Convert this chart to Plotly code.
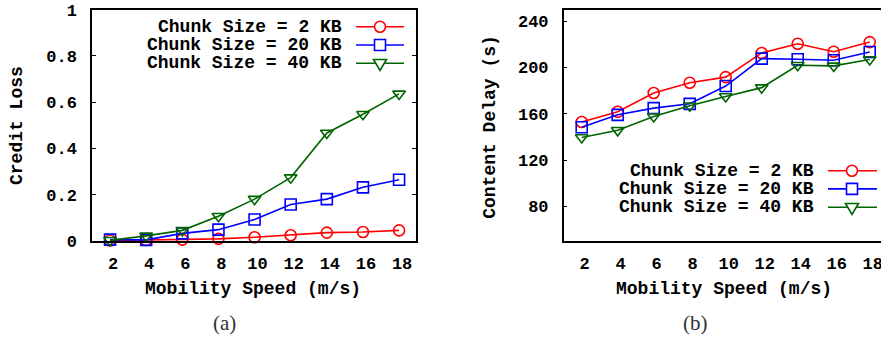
import plotly.graph_objects as go

# ---------------- data ----------------
speeds = [2, 4, 6, 8, 10, 12, 14, 16, 18]
series_names = ["Chunk Size = 2 KB", "Chunk Size = 20 KB", "Chunk Size = 40 KB"]

credit_2kb = [0.002, 0.004, 0.006, 0.009, 0.016, 0.025, 0.036, 0.039, 0.046]
credit_20kb = [0.006, 0.005, 0.033, 0.049, 0.093, 0.158, 0.181, 0.232, 0.265]
credit_40kb = [0.003, 0.022, 0.046, 0.107, 0.181, 0.274, 0.467, 0.548, 0.636]

delay_2kb = [152.9, 161.7, 178.0, 186.9, 191.7, 212.6, 220.6, 213.7, 222.0]
delay_20kb = [148.3, 159.1, 164.9, 168.6, 184.0, 207.7, 207.1, 206.3, 213.4]
delay_40kb = [139.5, 145.7, 157.7, 166.9, 174.9, 182.6, 202.0, 201.4, 206.9]

credit_ticks = [0, 0.2, 0.4, 0.6, 0.8, 1]
delay_ticks = [80, 120, 160, 200, 240]

# ---------------- style ----------------
W, H = 881, 339
colors = ["#ff0000", "#0000ff", "#006400"]
symbols = ["circle-open", "square-open", "triangle-down-open"]
MONO = "Liberation Mono"
tick_font = dict(family=MONO, size=17, color="black", weight="bold")
title_font = dict(family=MONO, size=18, color="black", weight="bold")


def px_x(p):
    return p / W


def px_y(p):
    return 1 - p / H


fig = go.Figure()

credit = [credit_2kb, credit_20kb, credit_40kb]
delay = [delay_2kb, delay_20kb, delay_40kb]
for i in range(3):
    fig.add_trace(go.Scatter(
        x=speeds, y=credit[i], mode="lines+markers", name=series_names[i],
        line=dict(color=colors[i], width=1.6),
        marker=dict(symbol=symbols[i], size=11, color=colors[i], line=dict(width=1.6, color=colors[i])),
        xaxis="x", yaxis="y", showlegend=False, cliponaxis=False))
    fig.add_trace(go.Scatter(
        x=speeds, y=delay[i], mode="lines+markers", name=series_names[i],
        line=dict(color=colors[i], width=1.6),
        marker=dict(symbol=symbols[i], size=11, color=colors[i], line=dict(width=1.6, color=colors[i])),
        xaxis="x2", yaxis="y2", showlegend=False))

ydom = [px_y(241), px_y(9.7)]
axis_common = dict(showgrid=False, zeroline=False, showline=True, linecolor="black",
                   linewidth=1.5, tickfont=tick_font, automargin=False,
                   ticklabeloverflow="allow")

fig.update_layout(
    width=W, height=H, margin=dict(l=0, r=0, t=0, b=0, autoexpand=False),
    paper_bgcolor="white", plot_bgcolor="white",
    xaxis=dict(domain=[px_x(92), px_x(415.7)], range=[1, 18.92], tickvals=speeds,
               ticks="", mirror=True, ticklabelstandoff=6, ticklabelshift=3, **axis_common),
    yaxis=dict(domain=ydom, range=[0, 1], tickvals=credit_ticks,
               ticktext=[("%g" % v) for v in credit_ticks],
               ticks="inside", ticklen=4, tickcolor="black", mirror="allticks",
               ticklabelstandoff=10, **axis_common),
    xaxis2=dict(domain=[px_x(563.7), 1.0], range=[1, 1 + (W - 563.7) / 18.0], tickvals=speeds,
                ticks="", mirror=True, anchor="y2", ticklabelstandoff=6, ticklabelshift=3,
                **axis_common),
    yaxis2=dict(domain=ydom, range=[50, 250], tickvals=delay_ticks, anchor="x2",
                ticks="inside", ticklen=4, tickcolor="black", mirror=False,
                ticklabelstandoff=10, **axis_common),
)

ann = []
# axis titles
ann.append(dict(text="Credit Loss", x=px_x(17.5), y=px_y(125.5), textangle=-90, font=title_font))
ann.append(dict(text="Content Delay (s)", x=px_x(489.3), y=px_y(126.5), textangle=-90, font=title_font))
ann.append(dict(text="Mobility Speed (m/s)", x=px_x(252.5), y=px_y(288.5), font=title_font))
ann.append(dict(text="Mobility Speed (m/s)", x=px_x(723.5), y=px_y(288.5), font=title_font))
# captions
cap_font = dict(family="Liberation Serif", size=21, color="#333333")
ann.append(dict(text="(a)", x=px_x(224), y=px_y(323), font=cap_font))
ann.append(dict(text="(b)", x=px_x(695), y=px_y(323), font=cap_font))

shapes = []


def add_legend(text_right, line_x0, line_x1, marker_x, rows_y):
    for i in range(3):
        y = rows_y[i]
        ann.append(dict(text=series_names[i], x=px_x(text_right), y=px_y(y),
                        xanchor="right", yanchor="middle", font=title_font))
        shapes.append(dict(type="line", xref="paper", yref="paper",
                           x0=px_x(line_x0), x1=px_x(line_x1), y0=px_y(y), y1=px_y(y),
                           line=dict(color=colors[i], width=1.6)))
        base = dict(xref="paper", yref="paper", xsizemode="pixel", ysizemode="pixel",
                    xanchor=px_x(marker_x), yanchor=px_y(y),
                    line=dict(color=colors[i], width=1.6), fillcolor="white")
        if i == 0:
            shapes.append(dict(type="circle", x0=-5.5, x1=5.5, y0=-5.5, y1=5.5, **base))
        elif i == 1:
            shapes.append(dict(type="rect", x0=-5.5, x1=5.5, y0=-5.5, y1=5.5, **base))
        else:
            shapes.append(dict(type="path", path="M -6.5 3.8 L 6.5 3.8 L 0 -7.2 Z", **base))


add_legend(344, 356, 404, 380, [26.7, 45.0, 63.3])
add_legend(816, 828, 877, 852, [170.7, 188.9, 207.3])

for a in ann:
    a.setdefault("xref", "paper")
    a.setdefault("yref", "paper")
    a.setdefault("xanchor", "center")
    a.setdefault("yanchor", "middle")
    a.setdefault("showarrow", False)
fig.update_layout(annotations=ann, shapes=shapes)

fig.write_html("out.html")
